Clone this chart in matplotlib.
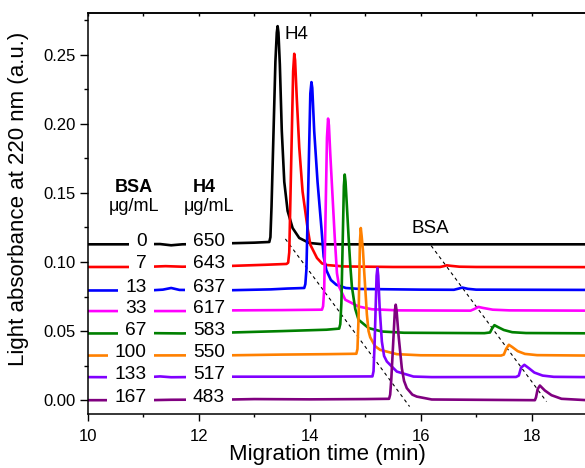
import numpy as np
import matplotlib.pyplot as plt
from matplotlib.ticker import MultipleLocator, FormatStrFormatter

plt.rcParams['font.family'] = ['Liberation Sans', 'DejaVu Sans']

# concentrations of each run (BSA added / H4 remaining), top trace first
bsa_conc = ['0', '7', '13', '33', '67', '100', '133', '167']
h4_conc = ['650', '643', '637', '617', '583', '550', '517', '483']
colors = ['#000000', '#ff0000', '#0000ff', '#ff00ff', '#008000', '#ff8000', '#8000ff', '#800080']
baselines = [0.1128, 0.0964, 0.0794, 0.0645, 0.0483, 0.0323, 0.0167, 0.0]

# electropherograms, offset for clarity
t_0 = [10.0, 10.7, 11.3, 11.5, 11.7, 12.5, 13.0, 13.27, 13.29, 13.31, 13.38, 13.405, 13.42, 13.435,
       13.46, 13.495, 13.54, 13.60, 13.69, 13.81, 13.99, 14.24, 15.0, 17.0, 19.0]
a_0 = [0.1128, 0.1128, 0.1130, 0.1121, 0.1128, 0.1135, 0.1140, 0.1145, 0.118, 0.140, 0.245, 0.266, 0.2707, 0.266,
       0.243, 0.195, 0.158, 0.137, 0.1246, 0.1174, 0.1138, 0.1128, 0.1128, 0.1128, 0.1128]

t_1 = [10.0, 11.0, 11.4, 11.7, 12.6, 13.2, 13.58, 13.61, 13.63, 13.70, 13.72, 13.735, 13.765, 13.81,
       13.87, 13.96, 14.01, 14.13, 14.22, 14.31, 14.61, 15.5, 16.35, 16.42, 16.47, 16.55, 16.7, 17.0, 19.0]
a_1 = [0.0964, 0.0964, 0.0970, 0.0966, 0.0972, 0.0980, 0.0986, 0.0995, 0.107, 0.238, 0.2507, 0.246, 0.219, 0.183,
       0.151, 0.1246, 0.1125, 0.1029, 0.0990, 0.0978, 0.0968, 0.0964, 0.0964, 0.0970, 0.0976, 0.0972, 0.0966, 0.0964, 0.0963]

t_2 = [10.0, 11.1, 11.35, 11.5, 11.65, 12.6, 13.3, 13.6, 13.90, 13.92, 13.94, 14.01, 14.03, 14.045, 14.08,
       14.14, 14.21, 14.25, 14.30, 14.38, 14.48, 14.65, 14.9, 16.0, 16.60, 16.68, 16.75, 16.85, 17.0, 19.0]
a_2 = [0.0794, 0.0794, 0.0800, 0.0812, 0.0798, 0.0796, 0.0802, 0.0808, 0.0812, 0.084, 0.095, 0.222, 0.2302, 0.226, 0.1947,
       0.158, 0.1246, 0.104, 0.094, 0.087, 0.0835, 0.0812, 0.0805, 0.0800, 0.0799, 0.0807, 0.0815, 0.0806, 0.0800, 0.0798]

t_3 = [10.0, 11.8, 12.0, 12.6, 13.5, 14.22, 14.24, 14.26, 14.31, 14.33, 14.345, 14.37, 14.41, 14.45,
       14.49, 14.53, 14.64, 14.88, 15.12, 15.6, 16.9, 16.97, 17.04, 17.12, 17.3, 17.6, 19.0]
a_3 = [0.0645, 0.0645, 0.0648, 0.0650, 0.0652, 0.0655, 0.068, 0.080, 0.190, 0.2038, 0.199, 0.178, 0.148, 0.118,
       0.092, 0.082, 0.0727, 0.0678, 0.0658, 0.0650, 0.0648, 0.0660, 0.0675, 0.0668, 0.0655, 0.0650, 0.0648]

t_4 = [10.0, 11.0, 11.2, 11.7, 12.6, 13.5, 14.3, 14.53, 14.55, 14.57, 14.615, 14.63, 14.645, 14.67, 14.70,
       14.73, 14.76, 14.82, 14.88, 15.06, 15.30, 15.7, 17.15, 17.25, 17.29, 17.33, 17.40, 17.5, 17.65, 17.9, 19.0]
a_4 = [0.0483, 0.0483, 0.0485, 0.0483, 0.0490, 0.0500, 0.0510, 0.0518, 0.055, 0.070, 0.155, 0.1633, 0.158, 0.140, 0.118,
       0.098, 0.082, 0.066, 0.0582, 0.0522, 0.0497, 0.0488, 0.0485, 0.0490, 0.0520, 0.0543, 0.0528, 0.0508, 0.0492, 0.0486, 0.0484]

t_5 = [10.0, 12.6, 13.5, 14.3, 14.84, 14.86, 14.88, 14.905, 14.92, 14.935, 14.96, 14.98, 15.01, 15.03, 15.06,
       15.09, 15.18, 15.27, 15.57, 16.0, 17.45, 17.50, 17.54, 17.59, 17.65, 17.75, 17.88, 18.1, 19.0]
a_5 = [0.0323, 0.0325, 0.0330, 0.0333, 0.0336, 0.037, 0.060, 0.115, 0.1246, 0.119, 0.108, 0.094, 0.075, 0.062, 0.050,
       0.0455, 0.0390, 0.0364, 0.0333, 0.0325, 0.0323, 0.0330, 0.0370, 0.0401, 0.0385, 0.0355, 0.0335, 0.0326, 0.0323]

t_6 = [10.0, 11.0, 11.3, 11.5, 12.6, 14.0, 15.13, 15.15, 15.17, 15.205, 15.22, 15.235, 15.26, 15.30, 15.34,
       15.39, 15.57, 15.87, 16.2, 17.72, 17.77, 17.81, 17.87, 17.95, 18.05, 18.2, 18.4, 19.0]
a_6 = [0.0167, 0.0165, 0.0172, 0.0166, 0.0170, 0.0170, 0.0172, 0.021, 0.042, 0.090, 0.0957, 0.090, 0.067, 0.0425, 0.032,
       0.028, 0.0207, 0.0171, 0.0167, 0.0168, 0.0178, 0.0235, 0.0256, 0.0232, 0.0200, 0.0178, 0.0169, 0.0167]

t_7 = [10.0, 11.1, 11.5, 12.6, 13.0, 14.0, 15.0, 15.43, 15.45, 15.47, 15.535, 15.55, 15.565, 15.60, 15.66,
       15.70, 15.75, 15.85, 15.93, 16.2, 18.06, 18.08, 18.11, 18.15, 18.24, 18.36, 18.54, 19.0]
a_7 = [0.0, 0.0, 0.0003, 0.0005, 0.0008, 0.0006, 0.0008, 0.0010, 0.004, 0.015, 0.065, 0.0691, 0.065, 0.0473, 0.0232,
       0.014, 0.0087, 0.0040, 0.0026, 0.0005, 0.0, 0.0020, 0.0080, 0.0106, 0.0070, 0.0036, 0.0010, 0.0]

traces = [(t_0, a_0), (t_1, a_1), (t_2, a_2), (t_3, a_3),
          (t_4, a_4), (t_5, a_5), (t_6, a_6), (t_7, a_7)]

# dashed guides following the H4 and BSA peak shift
guide_t = [[13.56, 15.80], [16.19, 18.27]]
guide_a = [[0.1167, -0.0046], [0.1118, -0.001]]

fig = plt.figure(figsize=(5.85, 4.68), dpi=100)
ax = fig.add_axes([88 / 585, 54 / 468, 499 / 585, 400.7 / 468])

for (t, a), c in zip(traces, colors):
    ax.plot(t, a, color=c, lw=1.9, solid_joinstyle='round', zorder=2)

for gt, ga in zip(guide_t, guide_a):
    ax.plot(gt, ga, color='black', lw=0.8, ls=(0, (3, 3)), zorder=1)

box = dict(boxstyle='square,pad=0.38', fc='white', ec='none')
for base, b, h in zip(baselines, bsa_conc, h4_conc):
    ax.text(11.06, base + 0.0022, b, ha='right', va='center', fontsize=13.8, bbox=box, zorder=5)
    ax.text(12.18, base + 0.0022, h, ha='center', va='center', fontsize=13.8, bbox=box, zorder=5)

ax.text(10.83, 0.1538, 'BSA', ha='center', va='center', fontsize=13, fontweight='bold')
ax.text(10.83, 0.1403, 'μg/mL', ha='center', va='center', fontsize=13)
ax.text(12.10, 0.1538, 'H4', ha='center', va='center', fontsize=13, fontweight='bold')
ax.text(12.19, 0.1403, 'μg/mL', ha='center', va='center', fontsize=13)

ax.text(13.55, 0.2647, 'H4', ha='left', va='center', fontsize=13.5)
ax.text(15.83, 0.1246, 'BSA', ha='left', va='center', fontsize=13.5)

ax.set_xlim(10, 19)
ax.set_ylim(-0.01, 0.28)
ax.xaxis.set_major_locator(MultipleLocator(2))
ax.xaxis.set_minor_locator(MultipleLocator(1))
ax.yaxis.set_major_locator(MultipleLocator(0.05))
ax.yaxis.set_minor_locator(MultipleLocator(0.025))
ax.yaxis.set_major_formatter(FormatStrFormatter('%.2f'))

ax.tick_params(axis='x', which='major', direction='out', length=4.7, width=1, labelsize=12, pad=6)
ax.tick_params(axis='x', which='minor', direction='out', length=2.4, width=1)
ax.tick_params(axis='y', which='major', direction='out', length=6, width=1, labelsize=12, pad=3)
ax.tick_params(axis='y', which='minor', direction='out', length=3.2, width=1)

top = ax.secondary_xaxis('top')
top.xaxis.set_major_locator(MultipleLocator(2))
top.xaxis.set_minor_locator(MultipleLocator(1))
top.tick_params(which='both', direction='in', length=2, width=1, labeltop=False)

for sp in ax.spines.values():
    sp.set_linewidth(1.1)
top.spines['top'].set_linewidth(1.1)

ax.set_xlabel('Migration time (min)', fontsize=16)
ax.set_ylabel('Light absorbance at 220 nm (a.u.)', fontsize=16)
ax.xaxis.set_label_coords(0.48, -0.075)
ax.yaxis.set_label_coords(-0.118, 0.537)

fig.savefig('out.png', dpi=100)
